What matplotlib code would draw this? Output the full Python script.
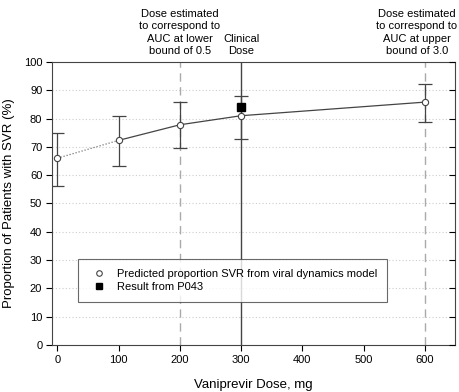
import matplotlib
matplotlib.use("Agg")
import matplotlib.pyplot as plt
from matplotlib.lines import Line2D

plt.rcParams['font.family'] = ['Liberation Sans', 'DejaVu Sans']

# model predictions
doses = [0, 100, 200, 300, 600]
svr = [66.0, 72.3, 77.8, 81.0, 85.8]
ci_low = [56.2, 63.4, 69.5, 72.7, 78.7]
ci_high = [74.8, 80.8, 85.8, 88.0, 92.1]

# observed result
obs_dose = [300]
obs_svr = [84.0]

xticks = [0, 100, 200, 300, 400, 500, 600]
yticks = list(range(0, 101, 10))

dark = '#444444'

fig = plt.figure(figsize=(4.6, 3.92), dpi=100)
ax = fig.add_axes([0.113, 0.12, 0.877, 0.722])

# reference dose lines
ax.axvline(200, color='#aaaaaa', lw=1.0, ls=(0, (6, 4)), zorder=1)
ax.axvline(600, color='#aaaaaa', lw=1.0, ls=(0, (6, 4)), zorder=1)
ax.axvline(300, color=dark, lw=1.0, zorder=1)

for y in yticks[1:-1]:
    ax.axhline(y, color='#cccccc', lw=0.8, ls=(0, (1, 2)), zorder=0)

# dotted segment for extrapolation to 0 mg, solid for the rest
ax.plot(doses[:2], svr[:2], color='#777777', lw=0.9, ls=(0, (1, 1.5)), zorder=2)
ax.plot(doses[1:], svr[1:], color=dark, lw=0.9, zorder=2)

err = [[s - l for s, l in zip(svr, ci_low)], [h - s for s, h in zip(svr, ci_high)]]
ax.errorbar(doses, svr, yerr=err, fmt='none', ecolor=dark, elinewidth=0.9,
            capsize=5, capthick=0.9, zorder=3)
ax.plot(doses, svr, 'o', ms=4.5, mfc='white', mec=dark, mew=0.8, zorder=4)
ax.plot(obs_dose, obs_svr, 's', ms=5.5, color='black', zorder=5)

ax.set_xlim(-9, 650)
ax.set_ylim(0, 100)
ax.set_xticks(xticks)
ax.set_yticks(yticks)
ax.tick_params(labelsize=8, length=4, width=0.8, colors='black', pad=3)
for sp in ax.spines.values():
    sp.set_linewidth(0.8)
    sp.set_color(dark)

# inward ticks on the right spine
ax2 = ax.twinx()
ax2.set_ylim(0, 100)
ax2.set_yticks(yticks)
ax2.tick_params(axis='y', direction='in', length=4, width=0.8, labelright=False)
for sp in ax2.spines.values():
    sp.set_visible(False)

ax.set_xlabel('Vaniprevir Dose, mg', fontsize=9.5, labelpad=10)
ax.set_ylabel('Proportion of Patients with SVR (%)', fontsize=9.5, labelpad=6)

# labels above the plot
ax.text(200, 102, 'Dose estimated\nto correspond to\nAUC at lower\nbound of 0.5',
        ha='center', va='bottom', fontsize=8, linespacing=1.3)
ax.text(300, 102, 'Clinical\nDose', ha='center', va='bottom', fontsize=8, linespacing=1.3)
ax.text(587, 102, 'Dose estimated\nto correspond to\nAUC at upper\nbound of 3.0',
        ha='center', va='bottom', fontsize=8, linespacing=1.3)

handles = [Line2D([], [], ls='none', marker='o', ms=4, mfc='white', mec=dark, mew=0.8),
           Line2D([], [], ls='none', marker='s', ms=5, color='black')]
leg = ax.legend(handles, ['Predicted proportion SVR from viral dynamics model', 'Result from P043'],
                loc='lower left', bbox_to_anchor=(0.065, 0.151, 0.765, 0.152), mode='expand',
                borderaxespad=0, fontsize=8, frameon=True, fancybox=False, edgecolor=dark,
                borderpad=0.9, handletextpad=0.6, labelspacing=0.3, handlelength=2)
leg.get_frame().set_linewidth(0.8)

fig.savefig('out.png', dpi=100)
